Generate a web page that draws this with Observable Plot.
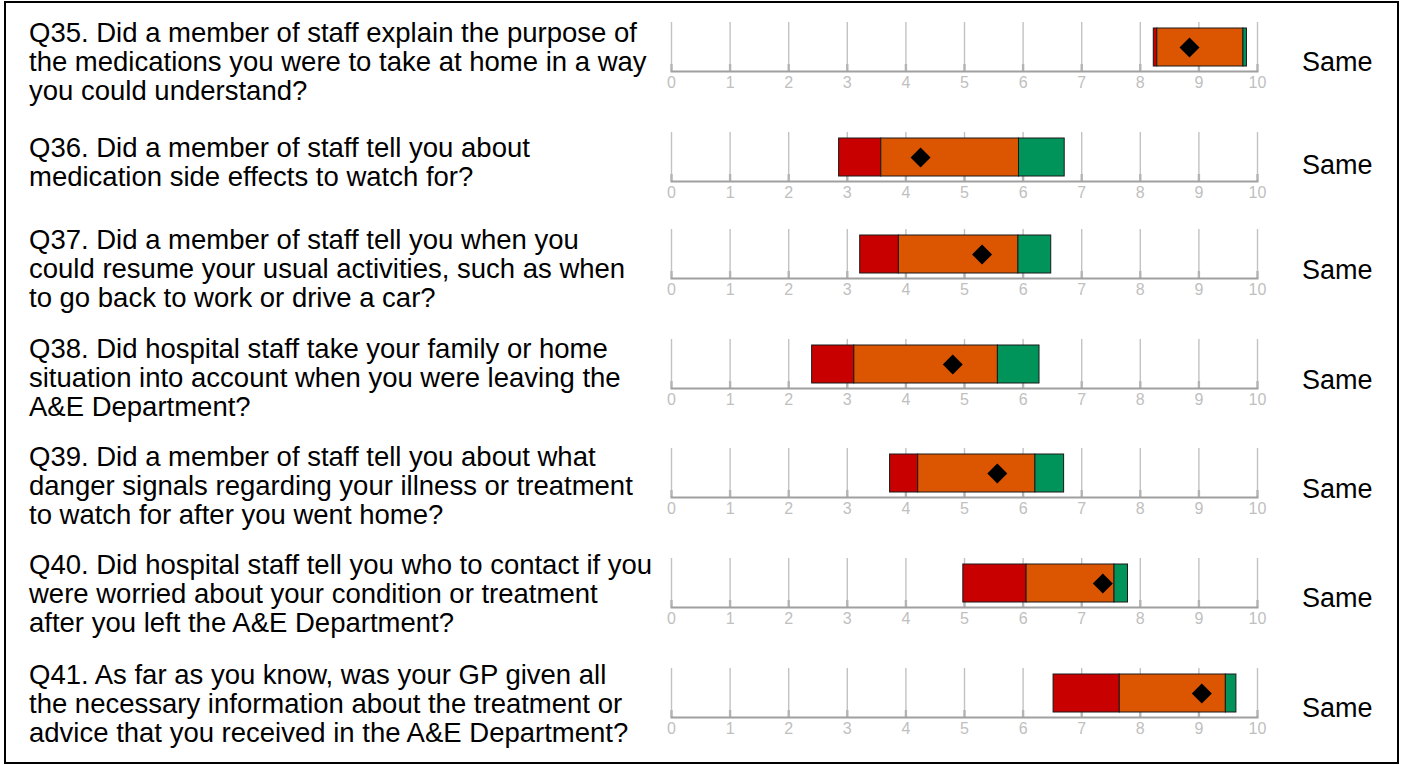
<!DOCTYPE html>
<html>
<head>
<meta charset="utf-8">
<script src="https://cdn.jsdelivr.net/npm/d3@7"></script>
<script src="https://cdn.jsdelivr.net/npm/@observablehq/plot@0.6"></script>
<style>
  html, body { margin: 0; padding: 0; background: #fff; }
  #wrap { position: relative; width: 1401px; height: 765px; overflow: hidden; font-family: "Liberation Sans", Arial, sans-serif; }
  #border { position: absolute; left: 4px; top: 1px; width: 1395px; height: 763px; border: 2px solid #000; box-sizing: border-box; }
  .q { position: absolute; left: 29px; width: 640px; font-size: 27.5px; line-height: 29px; color: #000; white-space: nowrap; }
  .res { position: absolute; left: 1302px; font-size: 27px; line-height: 30px; color: #000; }
  .chart { position: absolute; }
</style>
</head>
<body>
<div id="wrap"><div id="border"></div></div>
<script>
// ---- data ----
const questions = [
  ["Q35. Did a member of staff explain the purpose of", "the medications you were to take at home in a way", "you could understand?"],
  ["Q36. Did a member of staff tell you about", "medication side effects to watch for?"],
  ["Q37. Did a member of staff tell you when you", "could resume your usual activities, such as when", "to go back to work or drive a car?"],
  ["Q38. Did hospital staff take your family or home", "situation into account when you were leaving the", "A&E Department?"],
  ["Q39. Did a member of staff tell you about what", "danger signals regarding your illness or treatment", "to watch for after you went home?"],
  ["Q40. Did hospital staff tell you who to contact if you", "were worried about your condition or treatment", "after you left the A&E Department?"],
  ["Q41. As far as you know, was your GP given all", "the necessary information about the treatment or", "advice that you received in the A&E Department?"]
];
const lowest     = [8.23, 2.86, 3.22, 2.40, 3.73, 4.98, 6.52];
const lowerCut   = [8.29, 3.58, 3.88, 3.12, 4.21, 6.06, 7.65];
const upperCut   = [9.76, 5.93, 5.92, 5.57, 6.21, 7.56, 9.46];
const highest    = [9.82, 6.71, 6.48, 6.28, 6.70, 7.79, 9.64];
const trustScore = [8.84, 4.25, 5.30, 4.80, 5.56, 7.36, 9.05];
const verdict    = ["Same", "Same", "Same", "Same", "Same", "Same", "Same"];
const tickValues = [0, 1, 2, 3, 4, 5, 6, 7, 8, 9, 10];
const bandNames  = ["Bottom 20%", "Middle 60%", "Top 20%"];
const bandColors = ["#c80000", "#dc5500", "#00935a"];

// ---- layout (pixels) ----
const axisY   = [71, 181, 278, 388, 497, 607, 717];
const textTop = [18, 133, 225, 334, 442, 550, 660];
const resY    = [62, 165, 270, 380, 489, 598, 708];

const wrap = document.getElementById("wrap");
const W = 626, H = 79, mL = 20, mR = 20, mT = 5, mB = 25;

questions.forEach((lines, i) => {
  const q = document.createElement("div");
  q.className = "q";
  q.style.top = textTop[i] + "px";
  q.innerHTML = lines.map(l => l.replace(/&/g, "&amp;")).join("<br>");
  wrap.appendChild(q);

  const r = document.createElement("div");
  r.className = "res";
  r.style.top = (resY[i] - 15) + "px";
  r.textContent = verdict[i];
  wrap.appendChild(r);

  const key = "row" + i;
  const segs = [
    {x1: lowest[i],   x2: lowerCut[i], band: bandNames[0]},
    {x1: lowerCut[i], x2: upperCut[i], band: bandNames[1]},
    {x1: upperCut[i], x2: highest[i],  band: bandNames[2]}
  ];
  const chart = Plot.plot({
    width: W, height: H,
    marginLeft: mL, marginRight: mR, marginTop: mT, marginBottom: mB,
    style: {background: "transparent", overflow: "visible"},
    x: {domain: [0, 10], axis: null},
    y: {domain: [key], axis: null, padding: 0.126},
    color: {domain: bandNames, range: bandColors},
    marks: [
      Plot.ruleX(tickValues, {x: d => d, stroke: "#c2c2c2", strokeWidth: 1.4}),
      Plot.ruleX(tickValues, {x: d => d, insetTop: 42, stroke: "#b4b4b4", strokeWidth: 2.4}),
      Plot.frame({anchor: "bottom", stroke: "#a0a0a0", strokeWidth: 2}),
      Plot.text(tickValues, {x: d => d, text: d => String(d), frameAnchor: "bottom", lineAnchor: "top", dy: 5,
        fill: "#c0c0c0", fontSize: 16, fontFamily: "Liberation Sans, Arial, sans-serif"}),
      Plot.barX(segs, {x1: "x1", x2: "x2", y: () => key, fill: "band", stroke: "#1a1a1a", strokeWidth: 1}),
      Plot.dot([trustScore[i]], {x: d => d, y: () => key, symbol: "diamond2", r: 9, fill: "#000", stroke: "none"})
    ]
  });
  chart.classList.add("chart");
  chart.style.left = (671 - mL) + "px";
  chart.style.top = (axisY[i] - 49 - mT) + "px";
  wrap.appendChild(chart);
});
</script>
</body>
</html>
